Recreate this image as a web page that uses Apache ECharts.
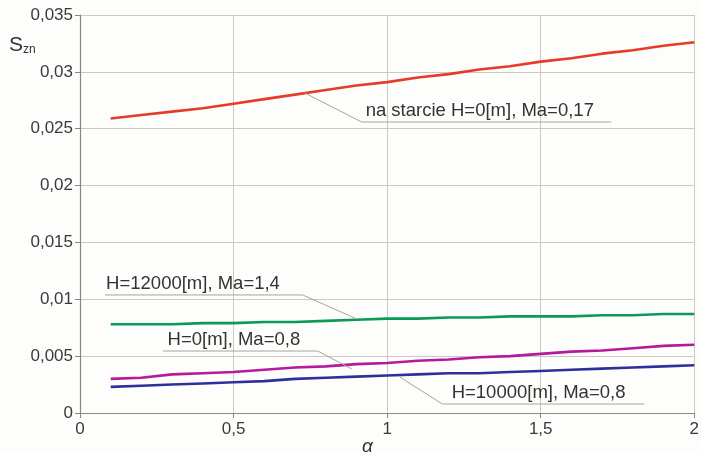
<!DOCTYPE html>
<html><head><meta charset="utf-8">
<script src="https://cdn.jsdelivr.net/npm/echarts@6/dist/echarts.min.js"></script>
<style>html,body{margin:0;padding:0;background:#fdfdfc;}#c{width:702px;height:452px;}</style>
</head><body><div id="c"></div>
<script>
var alpha = [0.1,0.2,0.3,0.4,0.5,0.6,0.7,0.8,0.9,1.0,1.1,1.2,1.3,1.4,1.5,1.6,1.7,1.8,1.9,2.0];
var sStart   = [0.0259,0.0262,0.0265,0.0268,0.0272,0.0276,0.0280,0.0284,0.0288,0.0291,0.0295,0.0298,0.0302,0.0305,0.0309,0.0312,0.0316,0.0319,0.0323,0.0326];
var sH12000  = [0.0078,0.0078,0.0078,0.0079,0.0079,0.0080,0.0080,0.0081,0.0082,0.0083,0.0083,0.0084,0.0084,0.0085,0.0085,0.0085,0.0086,0.0086,0.0087,0.0087];
var sH0      = [0.0030,0.0031,0.0034,0.0035,0.0036,0.0038,0.0040,0.0041,0.0043,0.0044,0.0046,0.0047,0.0049,0.0050,0.0052,0.0054,0.0055,0.0057,0.0059,0.0060];
var sH10000  = [0.0023,0.0024,0.0025,0.0026,0.0027,0.0028,0.0030,0.0031,0.0032,0.0033,0.0034,0.0035,0.0035,0.0036,0.0037,0.0038,0.0039,0.0040,0.0041,0.0042];
var xTicks = [0,0.5,1,1.5,2];
var yTicks = [0,0.005,0.01,0.015,0.02,0.025,0.03,0.035];
var labels = ["na starcie H=0[m], Ma=0,17","H=12000[m], Ma=1,4","H=0[m], Ma=0,8","H=10000[m], Ma=0,8"];
// annotation geometry in data coords
var annot = [
  {lead:[0.732,0.02814], elbow:[0.917,0.02559], endX:1.73, textX:0.93},
  {lead:[0.901,0.00827], elbow:[0.725,0.01038], endX:0.0813, textX:0.085},
  {lead:[0.885,0.00387], elbow:[0.774,0.00545], endX:0.270, textX:0.285},
  {lead:[1.041,0.00317], elbow:[1.180,0.00079], endX:1.837, textX:1.21}
];
function fmt(v){ return String(Math.round(v*1000)/1000).replace('.',','); }
function pairs(ys){ return alpha.map(function(a,i){return [a,ys[i]];}); }
var chart = echarts.init(document.getElementById('c'), null, {renderer:'canvas'});
var font = '"Liberation Sans", Arial, sans-serif';
var colors = ['#e63a2a','#0b9a55','#b5199c','#2f2f9c'];
var axisCommon = {
  axisLine:{show:true, onZero:false, lineStyle:{color:'#8c8780', width:1.2}},
  axisTick:{show:true, inside:false, length:5, lineStyle:{color:'#8c8780'}},
  splitLine:{show:true, lineStyle:{color:'#cdc9c2', width:1}},
  axisLabel:{color:'#3a3a3a', fontSize:17, fontFamily:font, formatter:fmt}
};
chart.setOption({
  animation:false,
  backgroundColor:'#fdfdfc',
  grid:{left:80, right:7, top:15, bottom:39, containLabel:false},
  xAxis:Object.assign({type:'value', min:xTicks[0], max:xTicks[xTicks.length-1], interval:0.5}, axisCommon,
     {axisLabel:Object.assign({}, axisCommon.axisLabel, {margin:8})}),
  yAxis:Object.assign({type:'value', min:yTicks[0], max:yTicks[yTicks.length-1], interval:0.005}, axisCommon,
     {axisLabel:Object.assign({}, axisCommon.axisLabel, {margin:7})}),
  series:[sStart,sH12000,sH0,sH10000].map(function(ys,i){
    return {type:'line', data:pairs(ys), showSymbol:false, symbol:'none', smooth:false,
      lineStyle:{color:colors[i], width:2.6}, z:3};
  })
});
var g = [];
annot.forEach(function(a,i){
  var p0 = chart.convertToPixel({gridIndex:0}, a.lead);
  var p1 = chart.convertToPixel({gridIndex:0}, a.elbow);
  var p2 = chart.convertToPixel({gridIndex:0}, [a.endX, a.elbow[1]]);
  var pt = chart.convertToPixel({gridIndex:0}, [a.textX, a.elbow[1]]);
  g.push({type:'polyline', shape:{points:[p0,p1,p2]}, style:{stroke:'#a8a49d', lineWidth:1, fill:null}, z:5, silent:true});
  g.push({type:'text', x:pt[0], y:p1[1]-2, style:{text:labels[i], fill:'#333', font:'18.5px '+font, textAlign:'left', textVerticalAlign:'bottom'}, z:6});
});
g.push({type:'text', left:9, top:35, style:{text:'{a|S}{b|zn}', rich:{a:{fontSize:21, fontFamily:font, fill:'#333'}, b:{fontSize:12, fontFamily:font, fill:'#333', verticalAlign:'bottom', padding:[9,0,0,0]}}}});
g.push({type:'text', left:362, top:437, style:{text:'α', fill:'#333', font:'italic 19px '+font}});
chart.setOption({graphic:g});
</script></body></html>
